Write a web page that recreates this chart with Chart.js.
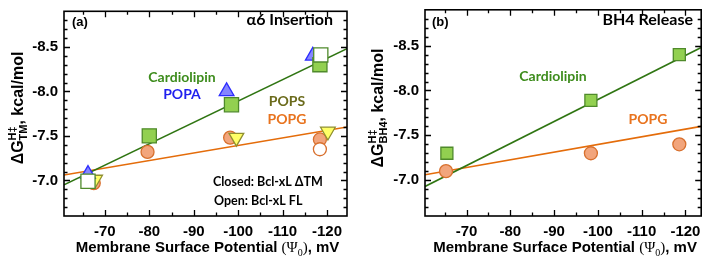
<!DOCTYPE html>
<html>
<head>
<meta charset="utf-8">
<script src="https://cdn.jsdelivr.net/npm/chart.js@4.4.1/dist/chart.umd.min.js"></script>
<style>
  html, body { margin: 0; padding: 0; background: #fff; }
  #wrap { display: flex; width: 711px; height: 260px; }
</style>
</head>
<body>
<div id="wrap">
  <canvas id="ca" width="360" height="260"></canvas>
  <canvas id="cb" width="351" height="260"></canvas>
</div>
<script>
const yTicks = [-8.5, -8.0, -7.5, -7.0];
const xTicks = [-70, -80, -90, -100, -110, -120];

// (a) alpha6 insertion
const aCardioX = [-80, -98.5, -118.4];
const aCardioY = [-7.50, -7.85, -8.30];
const aCardioOpenX = [-66.2, -118.6];
const aCardioOpenY = [-6.99, -8.41];
const aPopaX = [-66.2, -97.4, -116.8];
const aPopaY = [-7.07, -8.00, -8.40];
const aPopsX = [-67.8, -99.6, -120.2];
const aPopsY = [-7.01, -7.48, -7.55];
const aPopgX = [-67.5, -79.6, -98.2, -118.4];
const aPopgY = [-6.97, -7.32, -7.48, -7.46];
const aPopgOpenX = [-118.4];
const aPopgOpenY = [-7.35];
const aFitX = [-60.8, -124.5];
const aCardioFitY = [-6.95, -8.48];
const aPopgFitY = [-7.06, -7.60];

// (b) BH4 release
const bCardioX = [-65.5, -98.4, -118.6];
const bCardioY = [-7.30, -7.89, -8.40];
const bPopgX = [-65.3, -98.4, -118.6];
const bPopgY = [-7.10, -7.30, -7.40];
const bFitX = [-60.5, -123.6];
const bCardioFitY = [-6.93, -8.48];
const bPopgFitY = [-7.06, -7.60];

const GREEN_LINE = '#2f7512';
const ORANGE_LINE = '#e46c0a';
const SQ_FILL = '#92d050', SQ_EDGE = '#4f8a2b';
const CI_FILL = '#f2a57c', CI_EDGE = '#d8702e';
const TR_FILL = '#8585ff', TR_EDGE = '#2d2dff';
const YT_FILL = '#ffff66', YT_EDGE = '#8f8f30';

const pts = (xs, ys) => xs.map((x, i) => ({ x: x, y: ys[i] }));

function marks(xs, ys, style, r, fill, edge, rot) {
  return {
    data: pts(xs, ys), showLine: false,
    pointStyle: style, pointRadius: r, pointRotation: rot || 0,
    pointBackgroundColor: fill, pointBorderColor: edge, pointBorderWidth: 1.3
  };
}
function fit(xs, ys, color) {
  return { data: pts(xs, ys), showLine: true, pointRadius: 0, borderColor: color, borderWidth: 1.6, fill: false };
}

const SANS = "'Liberation Sans', Arial, sans-serif";
const LATO = "Lato, 'Liberation Sans', sans-serif";
const SERIF = "'Liberation Serif', 'DejaVu Serif', serif";

// draws a list of text pieces left to right on one baseline
function drawRich(ctx, parts, x, y) {
  for (const p of parts) {
    ctx.font = p.font;
    if (p.up !== undefined) {
      ctx.fillText(p.up, x, y - 7);
      ctx.fillText(p.down, x, y + 4);
      x += Math.max(ctx.measureText(p.up).width, ctx.measureText(p.down).width);
    } else {
      ctx.fillText(p.t, x, y + (p.dy || 0));
      x += ctx.measureText(p.t).width;
    }
  }
  return x;
}
function richWidth(ctx, parts) {
  ctx.save();
  ctx.globalAlpha = 0;
  const w = drawRich(ctx, parts, 0, 0);
  ctx.restore();
  return w;
}

const frame = {
  id: 'frame',
  afterDraw(chart, args, o) {
    const { ctx, chartArea: a, scales: { x, y } } = chart;
    ctx.save();
    ctx.strokeStyle = '#000';
    ctx.lineWidth = 1.6;
    ctx.strokeRect(a.left, a.top, a.right - a.left, a.bottom - a.top);
    ctx.lineWidth = 1.3;
    ctx.beginPath();
    for (let v = -65; v >= -120; v -= 5) {
      const px = Math.round(x.getPixelForValue(v)) + 0.5;
      const len = v % 10 === 0 ? 6 : 3.5;
      ctx.moveTo(px, a.bottom); ctx.lineTo(px, a.bottom - len);
      ctx.moveTo(px, a.top); ctx.lineTo(px, a.top + len);
    }
    for (let k = -88; k <= -67; k++) {
      const py = Math.round(y.getPixelForValue(k / 10)) + 0.5;
      const len = k % 5 === 0 ? 6 : 3.5;
      ctx.moveTo(a.left, py); ctx.lineTo(a.left + len, py);
      ctx.moveTo(a.right, py); ctx.lineTo(a.right - len, py);
    }
    ctx.stroke();

    // text notes
    ctx.textBaseline = 'middle';
    for (const n of o.notes) {
      ctx.font = n.font;
      ctx.fillStyle = n.color;
      ctx.textAlign = n.align;
      ctx.fillText(n.text, n.x, n.y);
    }

    // axis titles
    ctx.textBaseline = 'alphabetic';
    ctx.textAlign = 'left';
    ctx.fillStyle = '#000';
    const big = 'bold 16px ' + SANS, small = 'bold 11px ' + SANS;
    const yParts = [
      { t: '\u0394G', font: big },
      { up: 'H\u2021', down: o.sub, font: small },
      { t: ', kcal/mol', font: big }
    ];
    const yw = richWidth(ctx, yParts);
    ctx.save();
    ctx.translate(23, 108);
    ctx.rotate(-Math.PI / 2);
    drawRich(ctx, yParts, -yw / 2, 0);
    ctx.restore();

    const xParts = [
      { t: 'Membrane Surface Potential ', font: 'bold 15px ' + SANS },
      { t: '(\u03A8', font: '15px ' + SERIF },
      { t: '0', font: '10px ' + SERIF, dy: 4 },
      { t: ')', font: '15px ' + SERIF },
      { t: ', mV', font: 'bold 15px ' + SANS }
    ];
    const xw = richWidth(ctx, xParts);
    drawRich(ctx, xParts, (a.left + a.right) / 2 + 2 - xw / 2, 252);
    ctx.restore();
  }
};

function makeChart(id, datasets, xmin, xmax, leftW, rightPad, frameOpts) {
  const tickFont = { family: SANS, size: 15, weight: 'bold' };
  return new Chart(document.getElementById(id), {
    type: 'scatter',
    data: { datasets: datasets },
    options: {
      responsive: false,
      animation: false,
      layout: { padding: { left: 0, top: 4, right: rightPad, bottom: 0 } },
      plugins: { legend: { display: false }, tooltip: { enabled: false }, frame: frameOpts },
      scales: {
        x: {
          type: 'linear', min: xmin, max: xmax, reverse: true,
          afterBuildTicks: s => { s.ticks = xTicks.map(v => ({ value: v })); },
          afterFit: s => { s.height = 44; s.paddingLeft = 0; s.paddingRight = 0; },
          grid: { display: false, drawTicks: false },
          border: { display: false },
          ticks: { font: tickFont, color: '#000', padding: 7, maxRotation: 0, autoSkip: false,
                   callback: v => String(v) }
        },
        y: {
          type: 'linear', min: -8.9, max: -6.6, reverse: true,
          afterBuildTicks: s => { s.ticks = yTicks.map(v => ({ value: v })); },
          afterFit: s => { s.width = leftW; s.paddingTop = 0; s.paddingBottom = 0; },
          grid: { display: false, drawTicks: false },
          border: { display: false },
          ticks: { font: tickFont, color: '#000', padding: 6, autoSkip: false,
                   callback: v => v.toFixed(1) }
        }
      }
    },
    plugins: [frame]
  });
}

makeChart('ca', [
  marks(aCardioOpenX, aCardioOpenY, 'rect', 10, '#ffffff', SQ_EDGE),
  marks(aCardioX, aCardioY, 'rect', 10, SQ_FILL, SQ_EDGE),
  marks(aPopaX, aPopaY, 'triangle', 8.5, TR_FILL, TR_EDGE),
  marks(aPopsX, aPopsY, 'triangle', 8.5, YT_FILL, YT_EDGE, 180),
  marks(aPopgOpenX, aPopgOpenY, 'circle', 6.5, '#ffffff', CI_EDGE),
  marks(aPopgX, aPopgY, 'circle', 6.5, CI_FILL, CI_EDGE),
  fit(aFitX, aCardioFitY, GREEN_LINE),
  fit(aFitX, aPopgFitY, ORANGE_LINE)
], -124.5, -60.8, 64, 13, {
  sub: 'TM',
  notes: [
    { text: '(a)', x: 72, y: 22, color: '#000', font: 'bold 13px ' + SANS, align: 'left' },
    { text: '\u03B16 Insertion', x: 333, y: 20, color: '#000', font: 'bold 16px ' + LATO, align: 'right' },
    { text: 'Cardiolipin', x: 182, y: 77, color: '#3d8c1c', font: 'bold 14px ' + LATO, align: 'center' },
    { text: 'POPA', x: 182, y: 94, color: '#1f1fee', font: 'bold 14px ' + LATO, align: 'center' },
    { text: 'POPS', x: 287, y: 101, color: '#6b6b1c', font: 'bold 14px ' + LATO, align: 'center' },
    { text: 'POPG', x: 287, y: 119, color: '#e8731e', font: 'bold 14px ' + LATO, align: 'center' },
    { text: 'Closed: Bcl-xL \u0394TM', x: 213, y: 182, color: '#000', font: 'bold 12.5px ' + LATO, align: 'left' },
    { text: 'Open: Bcl-xL FL', x: 214, y: 201, color: '#000', font: 'bold 12.5px ' + LATO, align: 'left' }
  ]
});

makeChart('cb', [
  marks(bCardioX, bCardioY, 'rect', 8.5, SQ_FILL, SQ_EDGE),
  marks(bPopgX, bPopgY, 'circle', 6.5, CI_FILL, CI_EDGE),
  fit(bFitX, bCardioFitY, GREEN_LINE),
  fit(bFitX, bPopgFitY, ORANGE_LINE)
], -123.6, -60.5, 65, 8, {
  sub: 'BH4',
  notes: [
    { text: '(b)', x: 72, y: 22, color: '#000', font: 'bold 13px ' + SANS, align: 'left' },
    { text: 'BH4 Release', x: 333, y: 20, color: '#000', font: 'bold 16px ' + LATO, align: 'right' },
    { text: 'Cardiolipin', x: 193, y: 76, color: '#3d8c1c', font: 'bold 14px ' + LATO, align: 'center' },
    { text: 'POPG', x: 288, y: 119, color: '#e8731e', font: 'bold 14px ' + LATO, align: 'center' }
  ]
});
</script>
</body>
</html>
